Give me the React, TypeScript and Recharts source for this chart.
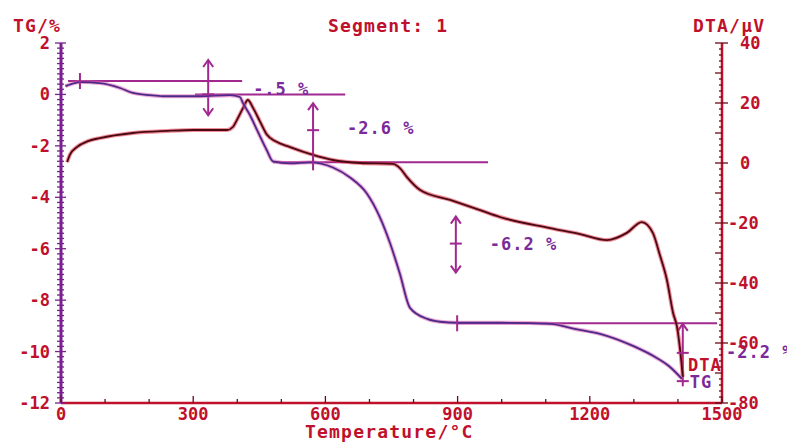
import React from 'react';
import { LineChart, Line, XAxis, YAxis, ReferenceLine, ReferenceDot } from 'recharts';

// TG curve (% mass change)
const tgTemp = [10, 16, 43, 88, 134, 163, 202, 231, 315, 384, 406, 413, 429, 445, 467, 481, 520, 565, 617, 656, 694, 724, 747, 769, 792, 831, 860, 899, 996, 1110, 1166, 1223, 1298, 1352, 1382, 1409];
const tgValue = [0.32, 0.36, 0.48, 0.44, 0.25, 0.06, -0.03, -0.07, -0.07, -0.03, -0.1, -0.34, -0.81, -1.39, -2.17, -2.6, -2.68, -2.64, -2.84, -3.23, -3.85, -4.79, -5.8, -6.97, -8.3, -8.73, -8.84, -8.88, -8.88, -8.92, -9.12, -9.31, -9.78, -10.25, -10.6, -11.06];

// DTA curve (uV)
const dtaTemp = [14, 20, 36, 61, 88, 163, 241, 300, 377, 390, 399, 413, 424, 436, 452, 467, 486, 520, 572, 617, 679, 753, 769, 785, 815, 883, 951, 996, 1110, 1178, 1239, 1284, 1318, 1343, 1359, 1375, 1389, 1398, 1405, 1411];
const dtaValue = [0.3, 2.7, 5.3, 7.3, 8.3, 10, 10.7, 11, 11, 12, 14.3, 18.3, 21, 18.3, 13.7, 9.5, 7.3, 5.3, 2.7, 1, 0, -0.3, -1.7, -4.7, -9, -12.3, -15.7, -18, -21.7, -23.7, -25.7, -23.3, -19.7, -23.3, -30.7, -39, -50, -54.7, -62.3, -71.3];

// axis ticks
const xTicks = [0, 100, 200, 300, 400, 500, 600, 700, 800, 900, 1000, 1100, 1200, 1300, 1400, 1500];
const xLabelTicks = [0, 300, 600, 900, 1200, 1500];
const tgLabelTicks = [2, 0, -2, -4, -6, -8, -10, -12];
const dtaLabelTicks = [40, 20, 0, -20, -40, -60, -80];
const tgTicks = Array.from({ length: 71 }, (_, i) => Math.round((-12 + i * 0.2) * 10) / 10);
const dtaTicks = Array.from({ length: 61 }, (_, i) => -80 + i * 2);

// step annotations (temperature, TG %)
const stepLines = [
  { x1: 16, x2: 411, y: 0.52 },
  { x1: 304, x2: 645, y: 0 },
  { x1: 481, x2: 969, y: -2.64 },
  { x1: 899, x2: 1489, y: -8.9 },
];
const arrows = [
  { x: 334, top: 1.34, bottom: -0.81, down: true },
  { x: 572, top: -0.34, bottom: -2.64, down: false },
  { x: 896, top: -4.75, bottom: -6.93, down: true },
  { x: 1411, top: -8.92, bottom: -11.35, down: false },
];
const crossMarks = [
  { x: 334, y: 0.52 }, { x: 334, y: 0 }, { x: 572, y: -1.39 },
  { x: 896, y: -5.8 }, { x: 1411, y: -10.05 }, { x: 1411, y: -11.15 },
];
const lineMarks = [
  { x: 43, y: 0.52 }, { x: 572, y: -2.64 }, { x: 899, y: -8.9 },
];
const stepLabels = [
  { x: 436, y: 0.22, text: '-.5 %' },
  { x: 649, y: -1.31, text: '-2.6 %' },
  { x: 973, y: -5.8, text: '-6.2 %' },
  { x: 1509, y: -10.0, text: '-2.2 %' },
];

const tgData = tgTemp.map((t, i) => ({ t, v: tgValue[i] }));
const dtaData = dtaTemp.map((t, i) => ({ t, v: dtaValue[i] }));

const FONT = '"DejaVu Sans Mono", monospace';
const RED = '#c0102c';
const PURPLE = '#7b2a9b';
const MAGENTA = '#a0288f';

const LeftTick = (props: any) => {
  const { x, y, payload } = props;
  const v = payload.value;
  const major = tgLabelTicks.includes(v);
  return (
    <g>
      <line x1={x - (major ? 6 : 4)} x2={x + (major ? 5 : 3)} y1={y} y2={y} stroke="#7a2090" strokeWidth={1.3} />
      {major && (
        <text x={x - 11} y={y} textAnchor="end" dominantBaseline="central" fill={RED} fontFamily={FONT} fontWeight="bold" fontSize={17}>
          {v}
        </text>
      )}
    </g>
  );
};

const RightTick = (props: any) => {
  const { x, y, payload } = props;
  const v = payload.value;
  const major = dtaLabelTicks.includes(v);
  const medium = v % 10 === 0;
  return (
    <g>
      <line x1={x - (medium ? 7 : 3)} x2={major ? x + 6 : x} y1={y} y2={y} stroke="#6a0a18" strokeWidth={1.3} />
      {major && (
        <text x={v < 0 ? x + 6 : x + 18} y={y} textAnchor="start" dominantBaseline="central" fill={RED} fontFamily={FONT} fontWeight="bold" fontSize={17}>
          {v}
        </text>
      )}
    </g>
  );
};

const BottomTick = (props: any) => {
  const { x, y, payload } = props;
  const v = payload.value;
  const major = xLabelTicks.includes(v);
  return (
    <g>
      <line x1={x} x2={x} y1={y} y2={y - (major ? 7 : 4)} stroke="#6a0a18" strokeWidth={1.3} />
      {major && (
        <text x={x} y={y + 11} textAnchor="middle" dominantBaseline="central" fill={RED} fontFamily={FONT} fontWeight="bold" fontSize={17}>
          {v}
        </text>
      )}
    </g>
  );
};

const ArrowShape = (down: boolean) => (props: any) => {
  const { x1, y1, x2, y2 } = props;
  const x = (x1 + x2) / 2;
  const top = Math.min(y1, y2);
  const bottom = Math.max(y1, y2);
  return (
    <g stroke={MAGENTA} strokeWidth={2} fill="none">
      <line x1={x} x2={x} y1={top} y2={bottom} />
      <polyline points={`${x - 5},${top + 7} ${x},${top} ${x + 5},${top + 7}`} />
      {down && <polyline points={`${x - 5},${bottom - 7} ${x},${bottom} ${x + 5},${bottom - 7}`} />}
    </g>
  );
};

const CrossShape = (props: any) => {
  const { cx, cy } = props;
  return <line x1={cx - 6} x2={cx + 6} y1={cy} y2={cy} stroke={MAGENTA} strokeWidth={2} />;
};

const VMarkShape = (props: any) => {
  const { cx, cy } = props;
  return <line x1={cx} x2={cx} y1={cy - 8} y2={cy + 8} stroke={MAGENTA} strokeWidth={2} />;
};

const TextShape = (text: string, fill: string) => (props: any) => {
  const { cx, cy } = props;
  return (
    <text x={cx} y={cy} dominantBaseline="central" fill={fill} fontFamily={FONT} fontWeight="bold" fontSize={17} letterSpacing={1}>
      {text}
    </text>
  );
};

const labelStyle: React.CSSProperties = {
  position: 'absolute',
  fontFamily: FONT,
  fontWeight: 'bold',
  fontSize: 18,
  letterSpacing: 1.2,
  color: RED,
  lineHeight: '18px',
  whiteSpace: 'nowrap',
};

export default function App() {
  return (
    <div style={{ position: 'absolute', left: 0, top: 0, width: 787, height: 443, background: '#fff', overflow: 'hidden' }}>
      <LineChart width={787} height={443} data={tgData} margin={{ top: 43, right: 0, bottom: 0, left: 0 }}>
        <XAxis
          dataKey="t"
          type="number"
          domain={[0, 1500]}
          ticks={xTicks}
          interval={0}
          height={40}
          tickSize={0}
          tickMargin={0}
          tickLine={false}
          tick={<BottomTick />}
          axisLine={{ stroke: RED, strokeWidth: 2.5 }}
        />
        <YAxis
          yAxisId="tg"
          orientation="left"
          domain={[-12, 2]}
          ticks={tgTicks}
          interval={0}
          width={61}
          tickSize={0}
          tickMargin={0}
          tickLine={false}
          tick={<LeftTick />}
          axisLine={{ stroke: '#7a2090', strokeWidth: 3 }}
        />
        <YAxis
          yAxisId="dta"
          orientation="right"
          domain={[-80, 40]}
          ticks={dtaTicks}
          interval={0}
          width={65}
          tickSize={0}
          tickMargin={0}
          tickLine={false}
          tick={<RightTick />}
          axisLine={{ stroke: RED, strokeWidth: 2.5 }}
        />

        {stepLines.map((s, i) => (
          <ReferenceLine
            key={`step-${i}`}
            yAxisId="tg"
            segment={[{ x: s.x1, y: s.y }, { x: s.x2, y: s.y }]}
            stroke={MAGENTA}
            strokeWidth={2}
          />
        ))}
        {arrows.map((a, i) => (
          <ReferenceLine
            key={`arrow-${i}`}
            yAxisId="tg"
            segment={[{ x: a.x, y: a.top }, { x: a.x, y: a.bottom }]}
            shape={ArrowShape(a.down)}
          />
        ))}
        {crossMarks.map((c, i) => (
          <ReferenceDot key={`cross-${i}`} yAxisId="tg" x={c.x} y={c.y} ifOverflow="visible" shape={CrossShape} />
        ))}
        {lineMarks.map((c, i) => (
          <ReferenceDot key={`mark-${i}`} yAxisId="tg" x={c.x} y={c.y} ifOverflow="visible" shape={VMarkShape} />
        ))}
        {stepLabels.map((l, i) => (
          <ReferenceDot key={`lab-${i}`} yAxisId="tg" x={l.x} y={l.y} ifOverflow="visible" shape={TextShape(l.text, PURPLE)} />
        ))}
        <ReferenceDot yAxisId="tg" x={1423} y={-10.52} ifOverflow="visible" shape={TextShape('DTA', RED)} />
        <ReferenceDot yAxisId="tg" x={1427} y={-11.18} ifOverflow="visible" shape={TextShape('TG', PURPLE)} />

        <Line data={dtaData} yAxisId="dta" dataKey="v" type="monotone" dot={false} stroke="#e8304a" strokeOpacity={0.55} strokeWidth={4} isAnimationActive={false} />
        <Line data={dtaData} yAxisId="dta" dataKey="v" type="monotone" dot={false} stroke="#4a0a12" strokeWidth={1.8} isAnimationActive={false} />
        <Line data={tgData} yAxisId="tg" dataKey="v" type="monotone" dot={false} stroke="#e060b0" strokeOpacity={0.55} strokeWidth={4} isAnimationActive={false} />
        <Line data={tgData} yAxisId="tg" dataKey="v" type="monotone" dot={false} stroke="#4b2a8a" strokeWidth={1.8} isAnimationActive={false} />
      </LineChart>

      <div style={{ ...labelStyle, left: 13, top: 17 }}>TG/%</div>
      <div style={{ ...labelStyle, left: 328, top: 17 }}>Segment: 1</div>
      <div style={{ ...labelStyle, left: 693, top: 17 }}>DTA/µV</div>
      <div style={{ ...labelStyle, left: 305, top: 423 }}>Temperature/°C</div>
    </div>
  );
}
